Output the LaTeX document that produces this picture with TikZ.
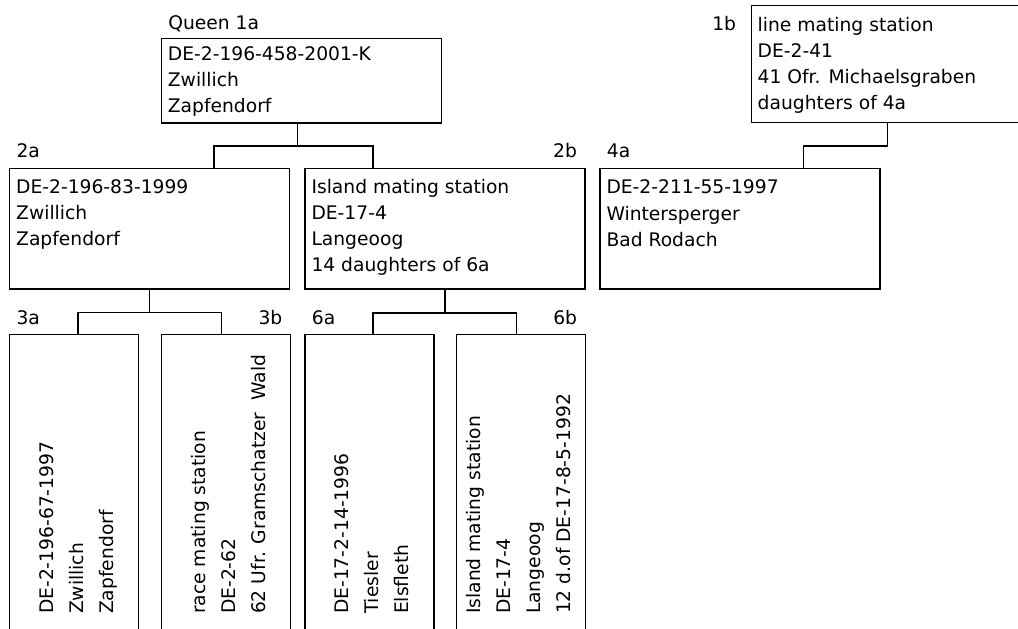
\documentclass[tikz,border=0pt]{standalone}
\usepackage{fontspec}
\setmainfont{DejaVu Sans}
\begin{document}
\begin{tikzpicture}[x=0.5pt, y=-0.5pt,
		box/.style={draw, line width=0.6pt, anchor=north west, inner sep=0pt, minimum width=140pt},
		cell/.style={box, minimum width=64.5pt, minimum height=163pt},
		txt/.style={anchor=north west, inner sep=0pt, align=left, font=\fontsize{9.35}{13.1}\selectfont},
		vtxt/.style={txt, rotate=90, font=\fontsize{9.35}{15}\selectfont},
		tag/.style={inner sep=0pt, font=\fontsize{9.35}{11}\selectfont},
		link/.style={line width=0.6pt}]
				\useasboundingbox (0,0) rectangle (1018,628);
				
				%queen and line mating station
				\node[box, minimum height=42.3pt] (q1a) at (160.7,37.7) {};
				\node[txt] (t1a) at ([xshift=3.4pt,yshift=-4.1pt]q1a.north west) {DE-2-196-458-2001-K\\Zwillich\\Zapfendorf};
				\node[tag, anchor=base west] (l1a) at ([xshift=3.6pt,yshift=3.9pt]q1a.north west) {Queen 1a};
				
				\node[box, minimum height=58.65pt] (s1b) at (750.5,4.7) {};
				\node[txt] (t1b) at ([xshift=3.4pt,yshift=-6pt]s1b.north west) {line mating station\\DE-2-41\\41 Ofr. Michaelsgraben\\daughters of 4a};
				\node[tag, anchor=base east] (l1b) at ([xshift=-7pt,yshift=-13pt]s1b.north west) {1b};
				
				%second row
				\node[box, minimum height=60.4pt] (q2a) at (9,167.5) {};
				\node[txt] (t2a) at ([xshift=3.4pt,yshift=-5.9pt]q2a.north west) {DE-2-196-83-1999\\Zwillich\\Zapfendorf};
				\node[tag, anchor=base west] (l2a) at ([xshift=3.6pt,yshift=4.9pt]q2a.north west) {2a};
				
				\node[box, minimum height=60.4pt] (s2b) at (304.3,167.5) {};
				\node[txt] (t2b) at ([xshift=3.4pt,yshift=-5.6pt]s2b.north west) {Island mating station\\DE-17-4\\Langeoog\\14 daughters of 6a};
				\node[tag, anchor=base east] (l2b) at ([xshift=-4.1pt,yshift=4.9pt]s2b.north east) {2b};
				
				\node[box, minimum height=60.4pt] (q4a) at (599.3,167.5) {};
				\node[txt] (t4a) at ([xshift=3.4pt,yshift=-6.1pt]q4a.north west) {DE-2-211-55-1997\\Wintersperger\\Bad Rodach};
				\node[tag, anchor=base west] (l4a) at ([xshift=3.6pt,yshift=4.9pt]q4a.north west) {4a};
				
				%third row, turned text
				\node[cell] (q3a) at (9,333.7) {};
				\node[vtxt] (t3a) at ([xshift=15.2pt,yshift=-140.3pt]q3a.north west) {DE-2-196-67-1997\\Zwillich\\Zapfendorf};
				\node[tag, anchor=base west] (l3a) at ([xshift=3.6pt,yshift=4.5pt]q3a.north west) {3a};
				
				\node[cell] (s3b) at (160.7,333.7) {};
				\node[vtxt] (t3b) at ([xshift=15.2pt,yshift=-140.3pt]s3b.north west) {race mating station\\DE-2-62\\62 Ufr. Gramschatzer~~Wald};
				\node[tag, anchor=base east] (l3b) at ([xshift=-4.1pt,yshift=4.5pt]s3b.north east) {3b};
				
				\node[cell] (q6a) at (304.3,333.7) {};
				\node[vtxt] (t6a) at ([xshift=15pt,yshift=-140.3pt]q6a.north west) {DE-17-2-14-1996\\Tiesler\\Elsfleth};
				\node[tag, anchor=base west] (l6a) at ([xshift=3.6pt,yshift=4.5pt]q6a.north west) {6a};
				
				\node[cell] (s6b) at (455.5,333.7) {};
				\node[vtxt] (t6b) at ([xshift=5pt,yshift=-140.3pt]s6b.north west) {Island mating station\\DE-17-4\\Langeoog\\12 d.of DE-17-8-5-1992};
				\node[tag, anchor=base east] (l6b) at ([xshift=-4.1pt,yshift=4.5pt]s6b.north east) {6b};
				
				%links
				\foreach \kid/\dx in {q2a/32.15pt, s2b/-36pt}{
					\draw[link] ([xshift=-2pt]q1a.south) -- ++(0,-11.2pt) -| ([xshift=\dx]\kid.north);
				}
				\draw[link] ([xshift=-1.9pt]s1b.south) -- ++(0,-11.35pt) -| ([xshift=31.9pt]q4a.north);
				\foreach \kid/\dx in {q3a/1.9pt, s3b/-2.1pt}{
					\draw[link] (q2a.south) -- ++(0,-11.6pt) -| ([xshift=\dx]\kid.north);
				}
				\foreach \kid/\dx in {q6a/1.8pt, s6b/-2pt}{
					\draw[link] (s2b.south) -- ++(0,-11.7pt) -| ([xshift=\dx]\kid.north);
				}
			\end{tikzpicture}
\end{document}
